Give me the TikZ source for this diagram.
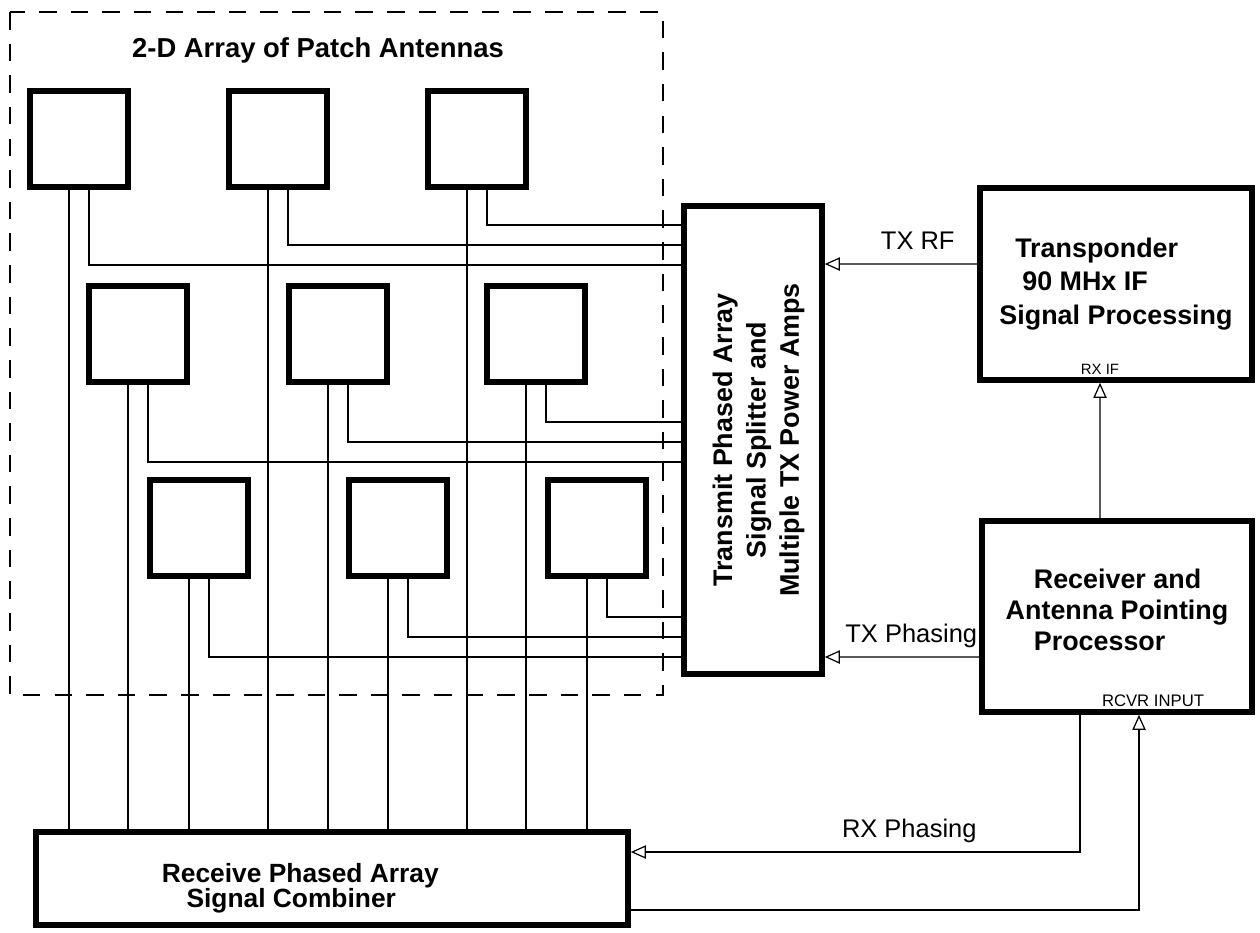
\documentclass[tikz,border=0pt]{standalone}
\usepackage{fontspec}
\setmainfont{Liberation Sans}
\usepackage{graphicx}
\usetikzlibrary{arrows.meta, positioning, calc}

\begin{document}
\begin{tikzpicture}[
    patch/.style={
        rectangle, draw, line width=3.4pt,
        minimum width=1.96cm, minimum height=1.92cm
    },
    block/.style={
        rectangle, draw, line width=3.2pt,
        align=left, font=\fontsize{15.3}{19}\selectfont\bfseries
    },
    feed/.style={line width=0.7pt},
    >={Triangle[open, length=8.5pt, width=7.5pt]},
    lbl/.style={font=\fontsize{14.5}{17}\selectfont, anchor=base, yshift=8.5pt, inner sep=0pt},
    pinlbl/.style={font=\fontsize{8.5}{10}\selectfont, inner sep=1pt},
    arrayframe/.style={line width=0.8pt, dash pattern=on 10pt off 8pt}
]
\useasboundingbox (0,0) rectangle (25.2,-18.64);

% antenna array frame
\draw[arrayframe] (0.2,-0.24) rectangle (13.26,-13.9);
\node[font=\fontsize{15.6}{19}\selectfont\bfseries] (title) at (6.36,-1.0) {2-D Array of Patch Antennas};

\node[patch] (p11) at (1.58, -2.78)  {};
\node[patch] (p12) at (5.56, -2.78)  {};
\node[patch] (p13) at (9.54, -2.78)  {};
\node[patch] (p21) at (2.76, -6.68)  {};
\node[patch] (p22) at (6.76, -6.68)  {};
\node[patch] (p23) at (10.72,-6.68)  {};
\node[patch] (p31) at (3.98, -10.56) {};
\node[patch] (p32) at (7.96, -10.56) {};
\node[patch] (p33) at (11.94,-10.56) {};

\node[block, align=center, minimum width=2.76cm, minimum height=9.36cm] (tx) at (15.06,-8.80)
    {\rotatebox{90}{\begin{tabular}{@{}c@{}}\rule{0pt}{20pt}Transmit Phased Array\\Signal Splitter and\\Multiple TX Power Amps\end{tabular}}};
\node[block, minimum width=5.44cm, minimum height=3.84cm] (trans) at (22.32,-5.68)
    {\hspace*{9pt}Transponder\\\hspace*{13pt}90 MHx IF\\Signal Processing};
\node[block, font=\fontsize{15.3}{17.6}\selectfont\bfseries, minimum width=5.4cm, minimum height=3.82cm] (rcv) at (22.34,-12.33)
    {\hspace*{16pt}Receiver and\\Antenna Pointing\\\hspace*{16pt}Processor\rule[-8pt]{0pt}{8pt}};
\node[block, font=\fontsize{15}{14.5}\selectfont\bfseries, minimum width=11.84cm, minimum height=1.86cm] (rx) at (6.64,-17.57)
    {\rule{0pt}{22pt}Receive Phased Array\hspace*{36pt}\\\hspace*{14pt}Signal Combiner};

% receive feeds
\draw[feed] ([xshift=-2mm]p11.south) -- ([xshift=-2mm]p11.south |- rx.north);
\draw[feed] ([xshift=-2mm]p12.south) -- ([xshift=-2mm]p12.south |- rx.north);
\draw[feed] ([xshift=-2mm]p13.south) -- ([xshift=-2mm]p13.south |- rx.north);
\draw[feed] ([xshift=-2mm]p21.south) -- ([xshift=-2mm]p21.south |- rx.north);
\draw[feed] ([xshift=-2mm]p22.south) -- ([xshift=-2mm]p22.south |- rx.north);
\draw[feed] ([xshift=-2mm]p23.south) -- ([xshift=-2mm]p23.south |- rx.north);
\draw[feed] ([xshift=-2mm]p31.south) -- ([xshift=-2mm]p31.south |- rx.north);
\draw[feed] ([xshift=-2mm]p32.south) -- ([xshift=-2mm]p32.south |- rx.north);
\draw[feed] ([xshift=-2mm]p33.south) -- ([xshift=-2mm]p33.south |- rx.north);

% transmit feeds
\draw[feed] ([xshift=2mm]p11.south) |- ([yshift=35mm]tx.west);
\draw[feed] ([xshift=2mm]p12.south) |- ([yshift=39mm]tx.west);
\draw[feed] ([xshift=2mm]p13.south) |- ([yshift=43mm]tx.west);
\draw[feed] ([xshift=2mm]p21.south) |- ([yshift=-4.4mm]tx.west);
\draw[feed] ([xshift=2mm]p22.south) |- ([yshift=-0.4mm]tx.west);
\draw[feed] ([xshift=2mm]p23.south) |- ([yshift=3.6mm]tx.west);
\draw[feed] ([xshift=2mm]p31.south) |- ([yshift=-43.4mm]tx.west);
\draw[feed] ([xshift=2mm]p32.south) |- ([yshift=-39.4mm]tx.west);
\draw[feed] ([xshift=2mm]p33.south) |- ([yshift=-35.4mm]tx.west);

\draw[feed, ->] ([yshift=4mm]trans.west) -- node[lbl, pos=0.39] {TX RF} ([yshift=35.2mm]tx.east);
\draw[feed, ->] ([yshift=-8.1mm]rcv.west) -- node[lbl, pos=0.44] {TX Phasing} ([yshift=-43.4mm]tx.east);
\draw[feed, ->] ([xshift=-3.4mm]rcv.north) -- ([xshift=-3.2mm]trans.south) node[pinlbl, above=3.5pt] (rxif) {RX IF};
\draw[feed, ->] ([xshift=-7.4mm]rcv.south) |- node[lbl, pos=0.69] {RX Phasing} ([yshift=5.3mm]rx.east);
\draw[feed, ->] ([yshift=-6.3mm]rx.east) -| ([xshift=4.4mm]rcv.south);
\node[pinlbl, font=\fontsize{9.5}{11}\selectfont, above=3.5pt] (rcvin) at ([xshift=7.2mm]rcv.south) {RCVR INPUT};

\end{tikzpicture}
\end{document}
